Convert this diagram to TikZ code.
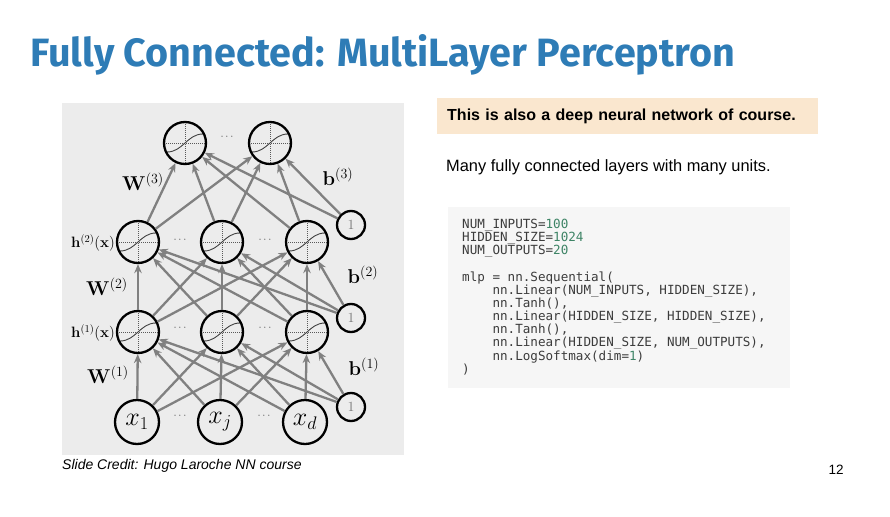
\RequirePackage{fix-cm}
\documentclass[tikz,border=0pt]{standalone}
\usepackage[no-math]{fontspec}
\usepackage{tikz}
\usetikzlibrary{arrows.meta,positioning,calc}
\newfontfamily\titlefont{Fira Sans}
\newfontfamily\slidefont{Liberation Sans}
\newfontfamily\codefont{DejaVu Sans Mono}
\definecolor{titleblue}{RGB}{46,124,182}
\definecolor{notebg}{RGB}{250,231,207}
\definecolor{codebg}{RGB}{246,246,246}
\definecolor{codetext}{RGB}{60,60,60}
\definecolor{codenum}{RGB}{62,132,102}
\definecolor{panelbg}{RGB}{236,236,236}
\definecolor{edgegray}{RGB}{128,128,128}
\newcommand{\numc}[1]{\textcolor{codenum}{#1}}
\newcommand{\ind}{\hphantom{xxxx}}

\begin{document}
\begin{tikzpicture}[
  x=1pt, y=-1pt,
  >={Stealth[length=9pt,width=7.5pt]},
  unit/.style={circle, draw, line width=2.3pt, fill=panelbg, minimum size=42pt, inner sep=0pt,
    path picture={
      \begin{scope}[shift={(path picture bounding box.center)}]
        \draw[densely dotted, line width=1pt, black!65] (-21,0) -- (21,0) (0,-21) -- (0,21);
        \draw[line width=0.9pt, black!75] (-18,9) .. controls (-2,9) and (2,-9) .. (18,-9);
      \end{scope}}},
  input/.style={circle, draw, line width=2.3pt, fill=panelbg, minimum size=44pt, inner sep=0pt, font=\fontsize{26}{26}\selectfont},
  bias/.style={circle, draw, line width=2.3pt, fill=panelbg, minimum size=28pt, inner sep=0pt, text=black!55, font=\fontsize{14}{14}\selectfont},
  edge/.style={->, edgegray, line width=2.3pt},
  wlabel/.style={font=\fontsize{20}{20}\selectfont, inner sep=1pt},
  hlabel/.style={anchor=east, font=\fontsize{15}{15}\selectfont, inner sep=1pt},
  dots/.style={font=\fontsize{11}{11}\selectfont, text=black!70, inner sep=0pt}
]
\useasboundingbox (0,0) rectangle (890,516);

% title
\node[anchor=west, text=titleblue, font=\titlefont\bfseries\fontsize{39.5}{44}\selectfont] (title) at (27,55) {Fully Connected: MultiLayer Perceptron};

% network panel
\fill[panelbg] (62,103) rectangle (404,455);

\node[unit] (o1) at (185,143) {};
\node[unit] (o2) at (270,143) {};
\node[dots] (od) at (227,137) {$\cdots$};

\node[unit] (h21) at (138,242) {};
\node[unit] (h22) at (222,242) {};
\node[unit] (h23) at (307,242) {};
\node[bias] (b3) at (351,225) {$1$};

\node[unit] (h11) at (138,332) {};
\node[unit] (h12) at (222,332) {};
\node[unit] (h13) at (307,332) {};
\node[bias] (b2) at (351,318) {$1$};

\node[input] (i1) at (137,422) {$x_1$};
\node[input] (i2) at (220,422) {$x_j$};
\node[input] (i3) at (305,422) {$x_d$};
\node[bias] (b1) at (351,407) {$1$};

\foreach \y in {240,328}
  \foreach \x in {180,265}
    \node[dots] at (\x,\y) {$\cdots$};
\node[dots] (id1) at (180,416) {$\cdots$};
\node[dots] (id2) at (264,416) {$\cdots$};

% connections
\foreach \s in {h21,h22,h23,b3}
  \foreach \t in {o1,o2}
    \draw[edge] (\s) -- (\t);
\foreach \s in {h11,h12,h13,b2}
  \foreach \t in {h21,h22,h23}
    \draw[edge] (\s) -- (\t);
\foreach \s in {i1,i2,i3,b1}
  \foreach \t in {h11,h12,h13}
    \draw[edge] (\s) -- (\t);

% labels
\node[wlabel] (w3) at (143,182) {$\mathbf{W}^{(3)}$};
\node[wlabel] (w2) at (107,287) {$\mathbf{W}^{(2)}$};
\node[wlabel] (w1) at (108,375) {$\mathbf{W}^{(1)}$};
\node[wlabel] (lb3) at (338,177) {$\mathbf{b}^{(3)}$};
\node[wlabel] (lb2) at (363,275) {$\mathbf{b}^{(2)}$};
\node[wlabel] (lb1) at (364,367) {$\mathbf{b}^{(1)}$};
\node[hlabel] (lh2) at (116,243) {$\mathbf{h}^{(2)}(\mathbf{x})$};
\node[hlabel] (lh1) at (116,333) {$\mathbf{h}^{(1)}(\mathbf{x})$};

% right column
\node[anchor=west, fill=notebg, minimum height=36pt, text width=361pt, inner xsep=10pt,
  font=\slidefont\bfseries\fontsize{16}{18}\selectfont] (note) at (437,116)
  {This is also a deep neural network of course.};
\node[anchor=west, inner sep=0pt, font=\slidefont\fontsize{16.4}{18}\selectfont] (summary) at (446,167)
  {Many fully connected layers with many units.};

\fill[codebg] (448,207) rectangle (790,388);
\node[anchor=north west, inner sep=0pt, align=left, text=codetext,
  font=\codefont\fontsize{12.6}{13.15}\selectfont] (code) at (462,219) {%
NUM\_INPUTS=\numc{100}\\
HIDDEN\_SIZE=\numc{1024}\\
NUM\_OUTPUTS=\numc{20}\\
\mbox{}\\
mlp = nn.Sequential(\\
\ind nn.Linear(NUM\_INPUTS, HIDDEN\_SIZE),\\
\ind nn.Tanh(),\\
\ind nn.Linear(HIDDEN\_SIZE, HIDDEN\_SIZE),\\
\ind nn.Tanh(),\\
\ind nn.Linear(HIDDEN\_SIZE, NUM\_OUTPUTS),\\
\ind nn.LogSoftmax(dim=\numc{1})\\
)};

% footer
\node[anchor=west, inner sep=0pt, font=\slidefont\itshape\fontsize{14}{16}\selectfont] (credit) at (62,466)
  {Slide Credit: Hugo Laroche NN course};
\node[font=\slidefont\fontsize{13.5}{15}\selectfont] (page) at (836,470) {12};
\end{tikzpicture}
\end{document}
